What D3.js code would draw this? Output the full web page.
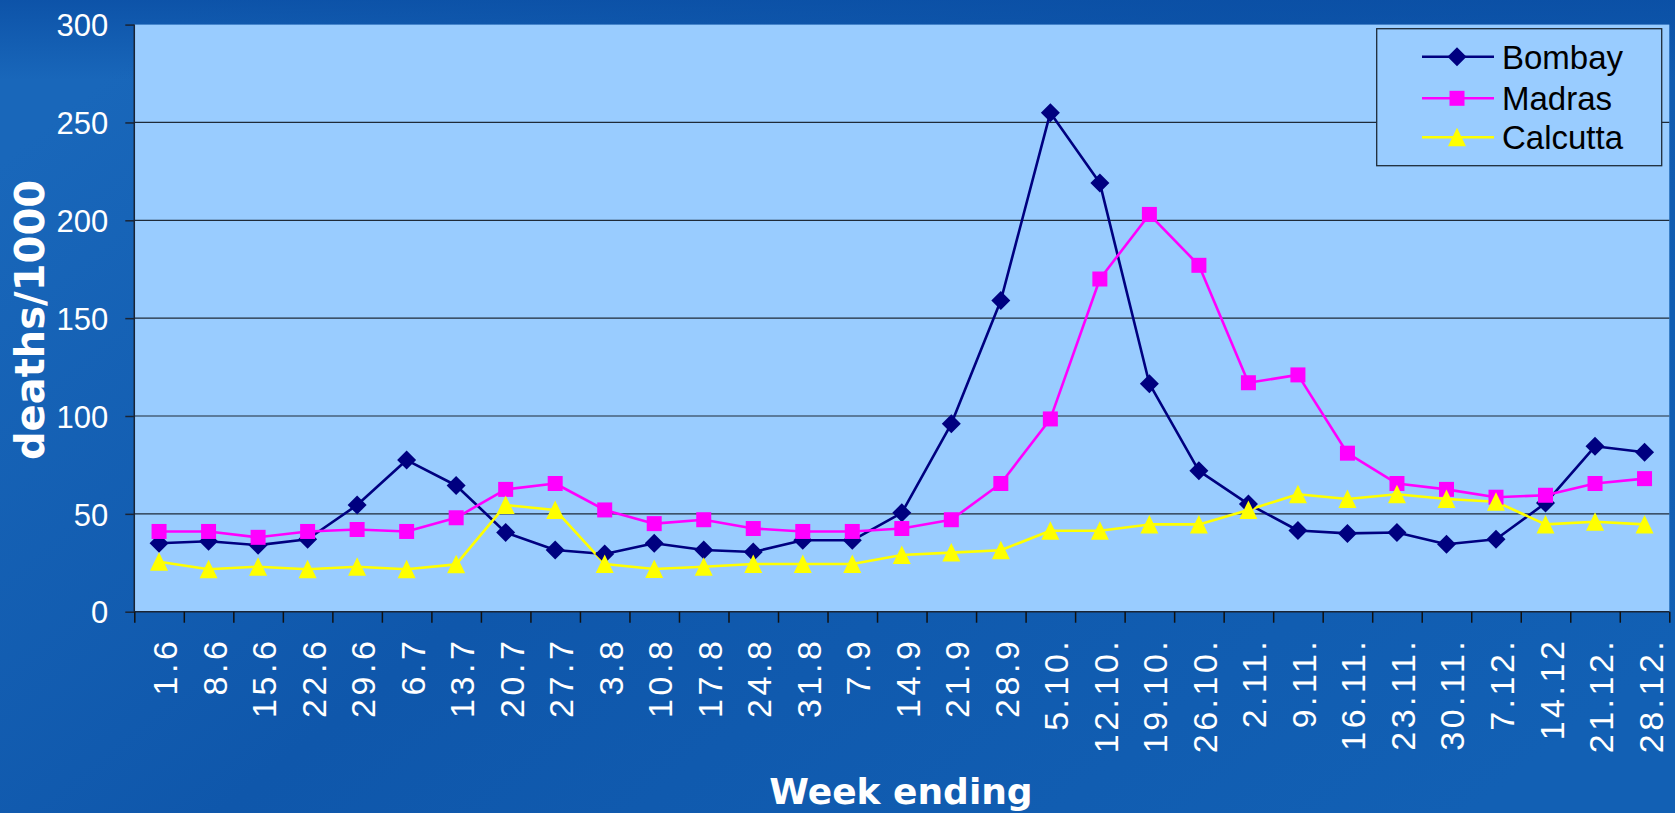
<!DOCTYPE html>
<html><head><meta charset="utf-8">
<script src="https://cdn.jsdelivr.net/npm/d3@7"></script>
<style>html,body{margin:0;padding:0;overflow:hidden;background:#1058ad}svg{display:block}</style>
</head><body>
<svg id="chart" width="1675" height="813"></svg>
<script>
const categories = ["1.6","8.6","15.6","22.6","29.6","6.7","13.7","20.7","27.7","3.8","10.8","17.8","24.8","31.8","7.9","14.9","21.9","28.9","5.10.","12.10.","19.10.","26.10.","2.11.","9.11.","16.11.","23.11.","30.11.","7.12.","14.12","21.12.","28.12."];
const bombay   = [35,36,34,37,54.5,77.5,64.5,40.5,31.5,29.5,35,31.5,30.5,36.5,36.5,50.5,96,159,255,219,116.5,72,55,41.5,40,40.5,34.5,37,55.5,84.5,81.5];
const madras   = [41,41,38,41,42,41,48,62.5,65.5,52,45,47,42.5,41,41,42.5,47,65.5,98.5,170,203,177,117,121,81,65.5,62.5,58.5,59.5,65.5,68];
const calcutta = [25.5,21.7,23,21.7,23,21.7,24.2,54.5,52,24.4,21.8,23,24.4,24.4,24.4,29,30.2,31.4,41.4,41.4,44.6,44.6,52,60,57.6,60,57.6,56.2,44.6,46,44.6];
const yTicks = [0,50,100,150,200,250,300];
const seriesNames = ["Bombay","Madras","Calcutta"];
const seriesColors = ["#000080","#FF00FF","#FFFF00"];
const seriesShapes = ["diamond","square","triangle"];
const yTitle = "deaths/1000";
const xTitle = "Week ending";

const svg = d3.select("#chart");
const W = 1675, H = 813;
const M = {left:134.3, right:1669.3, top:24.6, bottom:611.7};

const defs = svg.append("defs");
const g1 = defs.append("linearGradient").attr("id","bg").attr("x1","0").attr("y1","0.2").attr("x2","1").attr("y2","0.8");
g1.append("stop").attr("offset","0").attr("stop-color","#1967ba");
g1.append("stop").attr("offset","0.45").attr("stop-color","#0f57ab");
g1.append("stop").attr("offset","1").attr("stop-color","#1260b4");
svg.append("rect").attr("width",W).attr("height",H).attr("fill","url(#bg)");
const g2 = defs.append("linearGradient").attr("id","bgtop").attr("x1","0").attr("y1","0").attr("x2","0").attr("y2","1");
g2.append("stop").attr("offset","0").attr("stop-color","#0a4ea4").attr("stop-opacity",0.8);
g2.append("stop").attr("offset","1").attr("stop-color","#0a4ea4").attr("stop-opacity",0);
svg.append("rect").attr("width",W).attr("height",80).attr("fill","url(#bgtop)");

const x = d3.scaleBand().domain(categories).range([M.left, M.right]).padding(0);
const xi = d3.scaleLinear().domain([0, categories.length]).range([M.left, M.right]);
const y = d3.scaleLinear().domain([0,300]).range([M.bottom, M.top]);

svg.append("rect").attr("x",M.left).attr("y",M.top).attr("width",M.right-M.left).attr("height",M.bottom-M.top).attr("fill","#99CCFF");

svg.append("g").selectAll("line").data(yTicks.filter(d=>d>0 && d<300)).join("line")
  .attr("x1",M.left).attr("x2",M.right).attr("y1",d=>y(d)).attr("y2",d=>y(d))
  .attr("stroke","#1e2a38").attr("stroke-width",1.2);

const yAxis = svg.append("g").attr("transform",`translate(${M.left},0)`)
  .call(d3.axisLeft(y).tickValues(yTicks).tickSize(9).tickPadding(17).tickFormat(d3.format("d")));
yAxis.select(".domain").attr("stroke","#1a2434").attr("stroke-width",1.5).attr("d",`M0,${M.top}V${M.bottom}`);
yAxis.selectAll(".tick line").attr("stroke","#1a2434").attr("stroke-width",1.5);
yAxis.selectAll(".tick text").attr("fill","#fff").attr("font-family","'Liberation Sans',Arial,sans-serif").attr("font-size",31).attr("dy","0.36em");

const xAxisTicks = svg.append("g").attr("transform",`translate(0,${M.bottom})`)
  .call(d3.axisBottom(xi).tickValues(d3.range(categories.length+1)).tickSize(11).tickFormat(""));
xAxisTicks.select(".domain").attr("stroke","#1a2434").attr("stroke-width",1.5).attr("d",`M${M.left},0H${M.right}`);
xAxisTicks.selectAll(".tick line").attr("stroke","#111").attr("stroke-width",1.5);

const xAxis = svg.append("g").attr("transform",`translate(0,${M.bottom})`)
  .call(d3.axisBottom(x).tickSize(0).tickFormat(d=>d));
xAxis.select(".domain").remove();
xAxis.selectAll(".tick text")
  .attr("fill","#fff").attr("font-family","'Liberation Sans',Arial,sans-serif").attr("font-size",34)
  .attr("letter-spacing","3.5px")
  .attr("text-anchor","end")
  .attr("transform","translate(18,26) rotate(-90)")
  .attr("x",0).attr("y",0).attr("dy",0);

svg.append("text").attr("transform",`translate(44,320) rotate(-90)`).attr("text-anchor","middle")
  .attr("fill","#fff").attr("font-family","'DejaVu Sans',Verdana,sans-serif").attr("font-weight","bold").attr("font-size",40)
  .text(yTitle);
svg.append("text").attr("x",901).attr("y",804).attr("text-anchor","middle")
  .attr("fill","#fff").attr("font-family","'DejaVu Sans',Verdana,sans-serif").attr("font-weight","bold").attr("font-size",36)
  .text(xTitle);

function shapePath(shape){
  if(shape==="diamond") return "M0,-9.5L9.5,0L0,9.5L-9.5,0Z";
  if(shape==="square") return "M-7.5,-7.5H7.5V7.5H-7.5Z";
  return "M0,-9.5L9,9L-9,9Z";
}
const data = [bombay, madras, calcutta];
const line = d3.line().x((d,i)=>x(categories[i])+x.bandwidth()/2).y(d=>y(d));
[0,1,2].forEach(s=>{
  svg.append("path").datum(data[s]).attr("d",line).attr("fill","none")
    .attr("stroke",seriesColors[s]).attr("stroke-width",2.6).attr("stroke-linejoin","round");
});
[0,1,2].forEach(s=>{
  svg.append("g").selectAll("path").data(data[s]).join("path")
    .attr("transform",(d,i)=>`translate(${x(categories[i])+x.bandwidth()/2},${y(d)})`)
    .attr("d",shapePath(seriesShapes[s])).attr("fill",seriesColors[s]);
});

const lg = svg.append("g");
lg.append("rect").attr("x",1376.7).attr("y",28.7).attr("width",285).attr("height",137)
  .attr("fill","#99CCFF").attr("stroke","#1e2a38").attr("stroke-width",1.3);
const rowY = [56.7, 98.3, 137.3];
seriesNames.forEach((n,i)=>{
  lg.append("line").attr("x1",1422).attr("x2",1494).attr("y1",rowY[i]).attr("y2",rowY[i])
    .attr("stroke",seriesColors[i]).attr("stroke-width",2.6);
  lg.append("path").attr("transform",`translate(1457,${rowY[i]})`).attr("d",shapePath(seriesShapes[i])).attr("fill",seriesColors[i]);
  lg.append("text").attr("x",1502).attr("y",rowY[i]).attr("dy","0.36em")
    .attr("font-family","'Liberation Sans',Arial,sans-serif").attr("font-size",33).attr("fill","#000").text(n);
});
</script>
</body></html>
